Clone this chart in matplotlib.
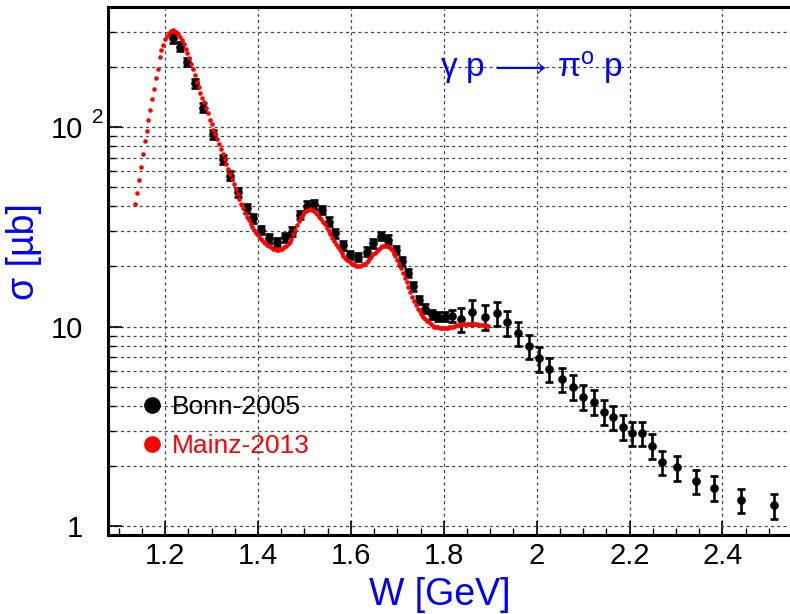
import matplotlib
matplotlib.use("Agg")
import matplotlib.pyplot as plt
from matplotlib.ticker import FixedLocator, FixedFormatter, MultipleLocator, NullFormatter
from matplotlib.lines import Line2D

# Bonn-2005 total cross section (W in GeV, sigma and error in microbarn)
bonn_w = [1.217, 1.232, 1.247, 1.264, 1.281, 1.304, 1.325, 1.340, 1.358, 1.376,
          1.390, 1.406, 1.424, 1.441, 1.458, 1.473, 1.490, 1.506, 1.521, 1.537,
          1.553, 1.566, 1.582, 1.598, 1.616, 1.634, 1.648, 1.664, 1.680, 1.697,
          1.711, 1.723, 1.734, 1.747, 1.760, 1.774, 1.788, 1.803, 1.817, 1.836,
          1.861, 1.888, 1.914, 1.936, 1.960, 1.983, 2.006, 2.027, 2.054, 2.078,
          2.100, 2.123, 2.144, 2.164, 2.185, 2.206, 2.227, 2.249, 2.270, 2.301,
          2.342, 2.382, 2.440, 2.511]
bonn_sigma = [278, 253, 212, 166, 125, 92, 69, 57, 47, 39.1,
              34.8, 30.5, 27.7, 26.6, 28.0, 29.9, 36.2, 40.4, 41.1, 38.4,
              33.5, 29.3, 25.6, 22.8, 22.4, 23.7, 26.1, 28.5, 27.2, 24.2,
              21.3, 18.6, 15.9, 13.6, 12.3, 11.5, 11.2, 11.2, 11.3, 10.9,
              11.85, 11.2, 11.65, 10.5, 9.25, 7.98, 6.92, 6.10, 5.44, 4.99,
              4.45, 4.20, 3.74, 3.53, 3.15, 2.92, 2.92, 2.53, 2.10, 1.97,
              1.68, 1.56, 1.35, 1.27]
bonn_err = [13.9, 12.7, 10.6, 8.3, 6.3, 4.6, 3.5, 2.9, 2.4, 2.0,
            1.7, 1.5, 1.4, 1.3, 1.4, 1.5, 1.8, 2.0, 2.1, 1.9,
            1.7, 1.5, 1.3, 1.1, 1.1, 1.2, 1.3, 1.4, 1.4, 1.2,
            1.1, 0.9, 0.8, 0.7, 0.6, 0.6, 0.6, 0.6, 0.8, 1.5,
            1.7, 1.6, 1.6, 1.5, 1.3, 1.1, 0.97, 0.85, 0.76, 0.70,
            0.62, 0.59, 0.52, 0.49, 0.44, 0.41, 0.41, 0.35, 0.29, 0.28,
            0.24, 0.22, 0.19, 0.18]

# Mainz-2013 total cross section (W in GeV, sigma in microbarn)
mainz_w = [1.136, 1.140, 1.144, 1.148, 1.152, 1.156, 1.160, 1.164, 1.168, 1.172,
           1.176, 1.180, 1.184, 1.188, 1.192, 1.196, 1.200, 1.204, 1.208, 1.212,
           1.216, 1.220, 1.224, 1.228, 1.232, 1.236, 1.240, 1.244, 1.248, 1.252,
           1.256, 1.260, 1.264, 1.268, 1.272, 1.276, 1.280, 1.284, 1.288, 1.292,
           1.296, 1.300, 1.304, 1.308, 1.312, 1.316, 1.320, 1.324, 1.328, 1.332,
           1.336, 1.340, 1.344, 1.348, 1.352, 1.356, 1.360, 1.364, 1.368, 1.372,
           1.376, 1.380, 1.384, 1.388, 1.392, 1.396, 1.400, 1.404, 1.408, 1.412,
           1.416, 1.420, 1.424, 1.428, 1.432, 1.436, 1.440, 1.444, 1.448, 1.452,
           1.456, 1.460, 1.464, 1.468, 1.472, 1.476, 1.480, 1.484, 1.488, 1.492,
           1.496, 1.500, 1.504, 1.508, 1.512, 1.516, 1.520, 1.524, 1.528, 1.532,
           1.536, 1.540, 1.544, 1.548, 1.552, 1.556, 1.560, 1.564, 1.568, 1.572,
           1.576, 1.580, 1.584, 1.588, 1.592, 1.596, 1.600, 1.604, 1.608, 1.612,
           1.616, 1.620, 1.624, 1.628, 1.632, 1.636, 1.640, 1.644, 1.648, 1.652,
           1.656, 1.660, 1.664, 1.668, 1.672, 1.676, 1.680, 1.684, 1.688, 1.692,
           1.696, 1.700, 1.704, 1.708, 1.712, 1.716, 1.720, 1.724, 1.728, 1.732,
           1.736, 1.740, 1.744, 1.748, 1.752, 1.756, 1.760, 1.764, 1.768, 1.772,
           1.776, 1.780, 1.784, 1.788, 1.792, 1.796, 1.800, 1.804, 1.808, 1.812,
           1.816, 1.820, 1.824, 1.828, 1.832, 1.836, 1.840, 1.844, 1.848, 1.852,
           1.856, 1.860, 1.864, 1.868, 1.872, 1.876, 1.880, 1.884, 1.888, 1.892,
           1.896]
mainz_sigma = [41, 46.5, 54, 63, 73, 85, 95, 109, 121, 138,
               155, 177, 195, 224, 243, 259, 276, 287, 296, 303,
               306, 304, 298, 291, 284, 272, 260, 247, 234, 222,
               208, 195, 182, 169, 158, 148, 140, 133, 125, 117,
               109, 103, 97, 92, 87, 82, 78, 73, 69, 65.5,
               61.8, 58.4, 55.2, 52.0, 49.1, 46.2, 43.6, 41.3, 39.1, 37.0,
               35.4, 34.0, 32.6, 31.4, 30.4, 29.5, 28.7, 27.9, 27.2, 26.6,
               26.1, 25.6, 25.2, 24.9, 24.6, 24.4, 24.3, 24.3, 24.4, 24.6,
               24.9, 25.4, 25.9, 26.5, 27.6, 29.0, 30.6, 32.2, 33.8, 35.2,
               36.5, 37.4, 38.1, 38.5, 38.7, 38.5, 37.9, 37.2, 36.5, 35.6,
               34.6, 33.6, 32.5, 31.3, 30.1, 29.0, 27.9, 26.8, 25.8, 24.9,
               24.1, 23.4, 22.7, 22.1, 21.6, 21.2, 20.9, 20.6, 20.3, 20.2,
               20.1, 20.2, 20.4, 20.6, 20.9, 21.3, 21.8, 22.4, 23.0, 23.5,
               24.0, 24.5, 24.9, 25.2, 25.4, 25.4, 25.2, 24.8, 24.2, 23.4,
               22.5, 21.6, 20.6, 19.6, 18.6, 17.6, 16.7, 15.8, 14.9, 14.1,
               13.4, 12.8, 12.3, 11.9, 11.6, 11.2, 10.9, 10.7, 10.5, 10.3,
               10.1, 10.0, 9.95, 9.9, 9.88, 9.86, 9.85, 9.85, 9.86, 9.9,
               9.95, 10.0, 10.1, 10.15, 10.2, 10.2, 10.25, 10.28, 10.3, 10.3,
               10.3, 10.3, 10.3, 10.28, 10.25, 10.22, 10.2, 10.18, 10.15, 10.1,
               10.07]

x_ticks = [1.2, 1.4, 1.6, 1.8, 2.0, 2.2, 2.4]
x_tick_labels = ["1.2", "1.4", "1.6", "1.8", "2", "2.2", "2.4"]
y_ticks = [1, 10, 100]
y_tick_labels = ["1", "10", "10"]

plt.rcParams['font.family'] = ['Liberation Sans', 'DejaVu Sans']
plt.rcParams['mathtext.fontset'] = 'custom'
plt.rcParams['mathtext.rm'] = 'Liberation Sans'
plt.rcParams['mathtext.it'] = 'Liberation Sans'
plt.rcParams['mathtext.sf'] = 'Liberation Sans'

BLUE = '#0000ff'

fig = plt.figure(figsize=(7.9, 6.14), dpi=100)
W, H = 790.0, 614.0
left_px, right_px, top_px, bottom_px = 108, 793, 7, 535
ax = fig.add_axes([left_px / W, 1 - bottom_px / H,
                   (right_px - left_px) / W, (bottom_px - top_px) / H])

ax.set_yscale('log')
ax.set_xlim(1.0771, 2.5518)
ax.set_ylim(0.902, 399.5)

grid_kw = dict(color='#444444', linewidth=0.9, dashes=(2.4, 2.6))
ax.grid(True, which='major', axis='x', **grid_kw)
ax.grid(True, which='both', axis='y', **grid_kw)
ax.set_axisbelow(True)

# Bonn data with error bars
ax.errorbar(bonn_w, bonn_sigma, yerr=bonn_err, fmt='o', color='black',
            markersize=5.2, elinewidth=1.9, capsize=2.6, capthick=1.9, zorder=3)
# Mainz data as dense dots
ax.plot(mainz_w, mainz_sigma, 'o', color='red', markersize=3.3,
        markeredgewidth=0, zorder=4)

ax.xaxis.set_major_locator(FixedLocator(x_ticks))
ax.xaxis.set_major_formatter(FixedFormatter(x_tick_labels))
ax.xaxis.set_minor_locator(MultipleLocator(0.05))
ax.yaxis.set_major_locator(FixedLocator(y_ticks))
ax.yaxis.set_major_formatter(FixedFormatter(y_tick_labels))
ax.yaxis.set_minor_formatter(NullFormatter())

ax.tick_params(axis='both', which='both', direction='in', top=False, right=False,
               labelsize=21, colors='black')
ax.tick_params(axis='both', which='major', length=10, width=1.2)
ax.tick_params(axis='both', which='minor', length=5, width=1.0)
ax.tick_params(axis='x', which='major', pad=5)
ax.tick_params(axis='y', which='major', pad=18)

for sp in ax.spines.values():
    sp.set_linewidth(2.2)

# exponent on the top decade label
ax.text(-0.006, 100, '2', transform=ax.get_yaxis_transform(),
        fontsize=15, ha='right', va='bottom', color='black')

fig.text(440 / W, 1 - 595 / H, 'W [GeV]', ha='center', va='center',
         color=BLUE, fontsize=27)
fig.text(24 / W, 1 - 252 / H, 'σ [µb]', ha='center', va='center',
         color=BLUE, fontsize=27, rotation=90)

ax.text(0.752, 0.869, r'$\mathregular{\gamma\ p\,\longrightarrow\,\pi^{o}\ p}$',
        transform=ax.transAxes, ha='right', va='baseline', color=BLUE, fontsize=24)

handles = [Line2D([], [], marker='o', linestyle='none', color='black', markersize=11),
           Line2D([], [], marker='o', linestyle='none', color='red', markersize=11)]
ax.legend(handles, ['Bonn-2005', 'Mainz-2013'], labelcolor=['black', 'red'],
          frameon=False, fontsize=19, loc='center left',
          bbox_to_anchor=(139 / W, 1 - 426.5 / H), bbox_transform=fig.transFigure,
          borderpad=0, borderaxespad=0, handlelength=1.0, handletextpad=0.25,
          labelspacing=0.56)

fig.savefig('out.png', dpi=100)
